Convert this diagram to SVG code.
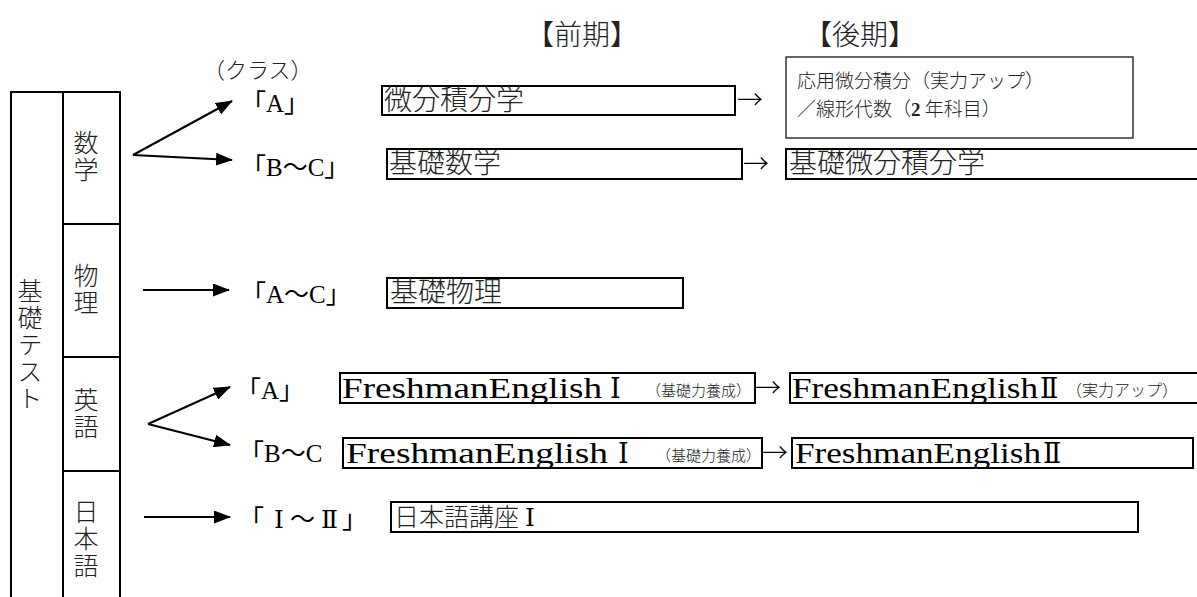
<svg xmlns="http://www.w3.org/2000/svg" width="1197" height="597" viewBox="0 0 1197 597">
<defs>
<marker id="ah" markerWidth="17" markerHeight="13" refX="16" refY="6.5" orient="auto" markerUnits="userSpaceOnUse">
<path d="M0,0 L17,6.5 L0,13 Z" fill="#000"/>
</marker>
<style>
.ln{stroke:#000;stroke-width:2;fill:none}
.bx{stroke:#000;stroke-width:2;fill:#fff}
.bt{stroke:#000;stroke-width:1.2;fill:#fff}
.jp{font-family:"Noto Sans CJK JP","Noto Sans CJK SC",sans-serif;font-weight:300;fill:#222}
.sr{font-family:"Liberation Serif","Noto Sans CJK JP",serif;fill:#000}
.rn{font-family:"DejaVu Serif","Liberation Serif","Noto Sans CJK JP",serif;fill:#000}
.vt{font-family:"Noto Sans CJK JP",sans-serif;font-weight:300;font-size:25px;fill:#222;writing-mode:vertical-rl;text-anchor:start;letter-spacing:2px}
.ar{font-family:"Noto Sans CJK JP",sans-serif;font-weight:300;font-size:26px;fill:#000}
.arw{stroke:#000;stroke-width:2;fill:none;marker-end:url(#ah)}
</style>
</defs>
<rect width="1197" height="597" fill="#fff"/>

<g id="table">
<path class="ln" d="M11,597 L11,92 L120,92 L120,597 M63,92 L63,597 M63,224 L120,224 M63,357 L120,357 M63,471 L120,471"/>
</g>
<g id="kiso-test">
<text class="vt" x="30" y="278">基礎テスト</text>
</g>
<g id="sugaku">
<text class="vt" x="86" y="130" font-size="26">数学</text>
</g>
<g id="butsuri">
<text class="vt" x="86" y="263">物理</text>
</g>
<g id="eigo">
<text class="vt" x="86" y="387">英語</text>
</g>
<g id="nihongo">
<text class="vt" x="86" y="499" font-size="24" letter-spacing="3">日本語</text>
</g>

<g id="headers">
<text class="jp" x="526" y="45" font-size="28" font-weight="400">【前期】</text>
<text class="jp" x="804" y="45" font-size="28" font-weight="400">【後期】</text>
<text class="jp" x="203" y="78" font-size="22">（クラス）</text>
</g>

<g id="connectors">
<line class="arw" x1="133" y1="155" x2="232" y2="101"/>
<line class="arw" x1="133" y1="155" x2="232" y2="160"/>
<line class="arw" x1="143" y1="290" x2="229" y2="290"/>
<line class="arw" x1="148" y1="424" x2="230" y2="387"/>
<line class="arw" x1="148" y1="424" x2="230" y2="445"/>
<line class="arw" x1="144" y1="517" x2="230" y2="517"/>
<text class="ar" x="737" y="109">→</text>
<text class="ar" x="743" y="173">→</text>
<text class="ar" x="755" y="397">→</text>
<text class="ar" x="762" y="462">→</text>
</g>

<g id="class-labels">
<text class="sr" x="241" y="112" font-size="25">「A」</text>
<text class="sr" x="241" y="176" font-size="25">「B〜C」</text>
<text class="sr" x="241" y="303" font-size="25">「A〜C」</text>
<text class="sr" x="236" y="399" font-size="25">「A」</text>
<text class="sr" x="239" y="462" font-size="25">「B〜C</text>
<text class="sr" x="239" y="528" font-size="25">「<tspan class="rn" dx="10">Ⅰ</tspan><tspan dx="6">〜</tspan><tspan class="rn" dx="6">Ⅱ</tspan><tspan dx="4">」</tspan></text>
</g>

<g id="bibun">
<rect class="bx" x="382" y="86" width="353" height="29"/>
<text class="jp" x="384" y="110" font-size="28">微分積分学</text>
</g>
<g id="kiso-sugaku">
<rect class="bx" x="387" y="149" width="355" height="30"/>
<text class="jp" x="389" y="173" font-size="28">基礎数学</text>
</g>
<g id="oyo">
<rect class="bt" x="786" y="57" width="347" height="81"/>
<text class="jp" x="797" y="88" font-size="19">応用微分積分（実力アップ）</text>
<text class="jp" x="797" y="116" font-size="19">／線形代数（<tspan font-family="Liberation Serif" font-weight="bold">2</tspan> 年科目）</text>
</g>
<g id="kiso-bibun">
<rect class="bx" x="786" y="149" width="420" height="30"/>
<text class="jp" x="789" y="173" font-size="28">基礎微分積分学</text>
</g>
<g id="kiso-butsuri">
<rect class="bx" x="387" y="278" width="296" height="30"/>
<text class="jp" x="390" y="302" font-size="28">基礎物理</text>
</g>
<g id="fe1-a">
<rect class="bx" x="340" y="373" width="415" height="30"/>
<text class="sr" x="342" y="398" font-size="30" textLength="260" lengthAdjust="spacingAndGlyphs">FreshmanEnglish</text>
<text class="rn" x="610" y="398" font-size="27">Ⅰ</text>
<text class="jp" x="646" y="396" font-size="15">（基礎力養成）</text>
</g>
<g id="fe2-a">
<rect class="bx" x="790" y="373" width="420" height="30"/>
<text class="sr" x="792" y="398" font-size="30" textLength="246" lengthAdjust="spacingAndGlyphs">FreshmanEnglish</text>
<text class="rn" x="1040" y="398" font-size="27">Ⅱ</text>
<text class="jp" x="1066" y="396" font-size="16">（実力アップ）</text>
</g>
<g id="fe1-bc">
<rect class="bx" x="343" y="438" width="419" height="30"/>
<text class="sr" x="346" y="463" font-size="30" textLength="262" lengthAdjust="spacingAndGlyphs">FreshmanEnglish</text>
<text class="rn" x="618" y="463" font-size="27">Ⅰ</text>
<text class="jp" x="656" y="461" font-size="15">（基礎力養成）</text>
</g>
<g id="fe2-bc">
<rect class="bx" x="792" y="438" width="401" height="30"/>
<text class="sr" x="795" y="463" font-size="30" textLength="246" lengthAdjust="spacingAndGlyphs">FreshmanEnglish</text>
<text class="rn" x="1043" y="463" font-size="27">Ⅱ</text>
</g>
<g id="nihongo-koza">
<rect class="bx" x="391" y="502" width="747" height="30"/>
<text class="jp" x="394" y="526" font-size="25">日本語講座<tspan class="rn" dx="6">Ⅰ</tspan></text>
</g>
</svg>
